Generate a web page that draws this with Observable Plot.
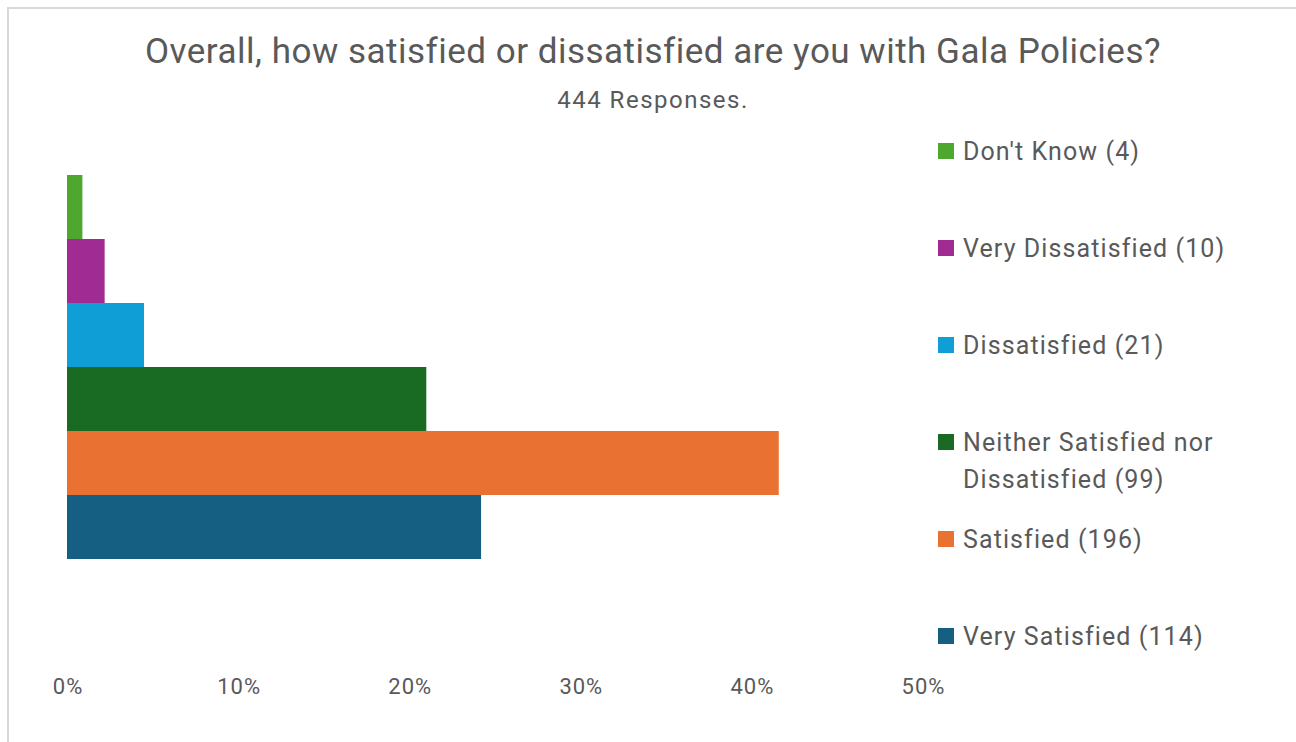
<!DOCTYPE html>
<html>
<head>
<meta charset="utf-8">
<script src="https://cdn.jsdelivr.net/npm/d3@7"></script>
<script src="https://cdn.jsdelivr.net/npm/@observablehq/plot@0.6"></script>
<style>
  html, body { margin: 0; padding: 0; background: #fff; overflow: hidden; }
  body { width: 1296px; height: 742px; position: relative; font-family: Roboto, "Noto Sans", sans-serif; color: #595959; }
  #frame { position: absolute; left: 7px; top: 7px; width: 1400px; height: 800px; border: 2px solid #d9d9d9; box-sizing: border-box; }
  #title { position: absolute; left: 0; width: 1306px; top: 33.5px; text-align: center; font-size: 35px; line-height: 35px; letter-spacing: 0.5px; white-space: nowrap; }
  #subtitle { position: absolute; left: 0; width: 1306px; top: 88px; text-align: center; font-size: 24px; line-height: 24px; letter-spacing: 1.5px; white-space: nowrap; }
  #chart { position: absolute; left: 0; top: 120px; }
  #legend { position: absolute; left: 938px; top: 0; }
  .item { position: absolute; left: 0; display: flex; align-items: flex-start; width: 340px; }
  .sw { width: 16px; height: 16px; margin-top: 10.5px; flex: none; }
  .lbl { margin-left: 9px; font-size: 25px; line-height: 37px; letter-spacing: 1.1px; width: 300px; }
  #chart svg text { letter-spacing: 1px; }
</style>
</head>
<body>
<div id="frame"></div>
<div id="title"></div>
<div id="subtitle"></div>
<div id="chart"></div>
<div id="legend"></div>
<script>
const titleText = "Overall, how satisfied or dissatisfied are you with Gala Policies?";
const subtitleText = "444 Responses.";
const categories = ["Don't Know", "Very Dissatisfied", "Dissatisfied", "Neither Satisfied nor Dissatisfied", "Satisfied", "Very Satisfied"];
const counts = [4, 10, 21, 99, 196, 114];
const shares = [0.009, 0.022, 0.045, 0.210, 0.416, 0.242];
const colors = ["#4ea72e", "#a02b93", "#0f9ed5", "#196b24", "#e97132", "#156082"];
const xTicks = [0, 0.1, 0.2, 0.3, 0.4, 0.5];

document.getElementById("title").textContent = titleText;
document.getElementById("subtitle").textContent = subtitleText;

const data = categories.map((c, i) => ({name: c, share: shares[i], count: counts[i]}));

const plot = Plot.plot({
  width: 1296,
  height: 600,
  marginLeft: 67,
  marginRight: 1296 - 922.5,
  marginTop: 0,
  marginBottom: 52,
  style: {fontFamily: "Roboto, 'Noto Sans', sans-serif", fontSize: "22px", color: "#595959", background: "transparent"},
  x: {domain: [0, 0.5], ticks: xTicks, tickFormat: d3.format(".0%")},
  y: {domain: categories, range: [53, 440], padding: 0, axis: null},
  color: {domain: categories, range: colors},
  marks: [
    Plot.barX(data, {x: "share", y: "name", fill: "name"}),
    Plot.axisX({ticks: xTicks, tickFormat: d3.format(".0%"), tickSize: 0, tickPadding: 9.5, label: null, fontSize: 22, dx: 0.5})
  ]
});
document.getElementById("chart").appendChild(plot);

const legend = document.getElementById("legend");
categories.forEach((c, i) => {
  const it = document.createElement("div");
  it.className = "item";
  it.style.top = (132.5 + 97 * i) + "px";
  const sw = document.createElement("div");
  sw.className = "sw";
  sw.style.background = colors[i];
  const lb = document.createElement("div");
  lb.className = "lbl";
  lb.textContent = `${c} (${counts[i]})`;
  it.appendChild(sw);
  it.appendChild(lb);
  legend.appendChild(it);
});
</script>
</body>
</html>
